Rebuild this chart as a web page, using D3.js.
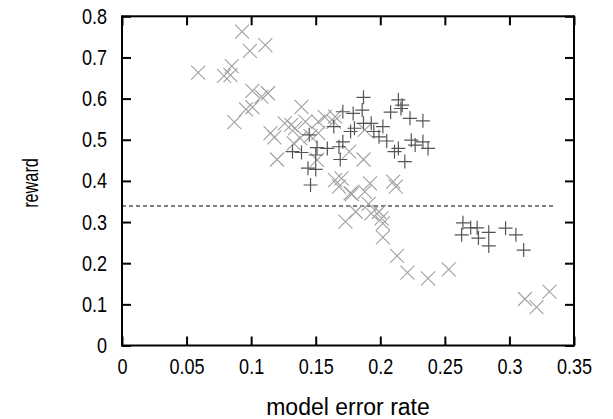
<!DOCTYPE html>
<html>
<head>
<meta charset="utf-8">
<script src="https://cdn.jsdelivr.net/npm/d3@7"></script>
<style>
  body { margin: 0; background: #fff; }
  svg text { font-family: "Liberation Sans", Arial, sans-serif; fill: #000; }
</style>
</head>
<body>
<div id="chart"></div>
<script>
// cross markers (light grey x)
var crossX = [0.059,0.079,0.084,0.085,0.093,0.099,0.111,0.101,0.108,0.113,0.096,0.101,0.087,0.115,0.118,0.120,
  0.126,0.131,0.134,0.139,0.142,0.152,0.157,0.164,0.165,0.146,0.152,0.138,0.133,0.151,0.176,0.188,0.187,
  0.170,0.165,0.168,0.177,0.188,0.192,0.210,0.212,0.178,0.181,0.173,0.191,0.193,0.199,0.201,0.202,0.202,
  0.213,0.221,0.237,0.253,0.312,0.321,0.331];
var crossY = [0.663,0.655,0.657,0.679,0.763,0.716,0.730,0.619,0.605,0.613,0.574,0.579,0.543,0.516,0.506,0.452,
  0.540,0.536,0.528,0.580,0.544,0.544,0.555,0.544,0.556,0.509,0.516,0.504,0.491,0.451,0.471,0.524,0.452,
  0.406,0.402,0.386,0.370,0.374,0.394,0.398,0.386,0.368,0.325,0.301,0.344,0.321,0.325,0.309,0.297,0.263,
  0.218,0.177,0.163,0.185,0.113,0.093,0.131];

// plus markers (dark grey +)
var plusX = [0.171,0.179,0.180,0.177,0.164,0.145,0.132,0.139,0.151,0.150,0.159,0.168,0.171,0.169,0.144,0.150,
  0.146,0.187,0.186,0.187,0.193,0.195,0.202,0.199,0.205,0.214,0.217,0.216,0.208,0.223,0.233,0.224,0.227,
  0.233,0.237,0.214,0.211,0.219,0.264,0.263,0.270,0.275,0.276,0.284,0.284,0.297,0.305,0.311];
var plusY = [0.568,0.564,0.528,0.520,0.532,0.512,0.471,0.469,0.481,0.463,0.479,0.483,0.495,0.452,0.431,0.428,
  0.390,0.603,0.572,0.540,0.540,0.520,0.532,0.507,0.497,0.597,0.584,0.576,0.567,0.552,0.546,0.499,0.487,
  0.495,0.479,0.479,0.471,0.447,0.298,0.269,0.286,0.286,0.261,0.275,0.242,0.285,0.269,0.232];

// baseline reward (dashed)
var baseline = 0.339;
var baselineEnd = 0.335;

var xTicks = [0, 0.05, 0.1, 0.15, 0.2, 0.25, 0.3, 0.35];
var yTicks = [0, 0.1, 0.2, 0.3, 0.4, 0.5, 0.6, 0.7, 0.8];

var w = 613, h = 419;
var mLeft = 122, mRight = 574, mTop = 16.3, mBottom = 345.5;

var x = d3.scaleLinear().domain([0, 0.35]).range([mLeft, mRight]);
var y = d3.scaleLinear().domain([0, 0.8]).range([mBottom, mTop]);

var svg = d3.select('#chart').append('svg')
  .attr('width', w)
  .attr('height', h);

// squeeze text along its own direction (the reference font is narrow)
var squeeze = function(sel, k) {
  sel.each(function() {
    var len = this.getComputedTextLength();
    d3.select(this).attr('textLength', len * k).attr('lengthAdjust', 'spacingAndGlyphs');
  });
};

// dashed line
svg.append('line')
  .attr('x1', x(0)).attr('x2', x(baselineEnd))
  .attr('y1', y(baseline)).attr('y2', y(baseline))
  .attr('stroke', '#000')
  .attr('stroke-width', 1.2)
  .attr('stroke-dasharray', '4,3');

// x marks
var cs = 7;
svg.append('g').selectAll('path')
  .data(d3.range(crossX.length))
  .enter().append('path')
  .attr('d', function(i) {
    var cx = x(crossX[i]), cy = y(crossY[i]);
    return 'M' + (cx - cs) + ',' + (cy - cs) + 'L' + (cx + cs) + ',' + (cy + cs) +
           'M' + (cx - cs) + ',' + (cy + cs) + 'L' + (cx + cs) + ',' + (cy - cs);
  })
  .attr('stroke', '#a0a0a0')
  .attr('stroke-width', 1.1)
  .attr('fill', 'none');

// + marks
var ps = 7;
svg.append('g').selectAll('path')
  .data(d3.range(plusX.length))
  .enter().append('path')
  .attr('d', function(i) {
    var cx = x(plusX[i]), cy = y(plusY[i]);
    return 'M' + (cx - ps) + ',' + cy + 'L' + (cx + ps) + ',' + cy +
           'M' + cx + ',' + (cy - ps) + 'L' + cx + ',' + (cy + ps);
  })
  .attr('stroke', '#555')
  .attr('stroke-width', 1.2)
  .attr('fill', 'none');

// axes with inward ticks on all sides
var tick = 9;
var xb = svg.append('g').attr('transform', 'translate(0,' + mBottom + ')')
  .call(d3.axisBottom(x).tickValues(xTicks).tickSize(-tick).tickPadding(13).tickFormat(d3.format('')));
var xt = svg.append('g').attr('transform', 'translate(0,' + mTop + ')')
  .call(d3.axisTop(x).tickValues(xTicks).tickSize(-tick).tickFormat(''));
var yl = svg.append('g').attr('transform', 'translate(' + mLeft + ',0)')
  .call(d3.axisLeft(y).tickValues(yTicks).tickSize(-tick).tickPadding(15).tickFormat(d3.format('')));
var yr = svg.append('g').attr('transform', 'translate(' + mRight + ',0)')
  .call(d3.axisRight(y).tickValues(yTicks).tickSize(-tick).tickFormat(''));

[xb, xt, yl, yr].forEach(function(g) {
  g.select('.domain').remove();
  g.selectAll('.tick line').attr('stroke', '#000').attr('stroke-width', 2);
  g.selectAll('.tick text').style('font-size', '22px').attr('font-family', null);
});
squeeze(xb.selectAll('.tick text'), 0.82);
squeeze(yl.selectAll('.tick text'), 0.82);

// frame
svg.append('rect')
  .attr('x', mLeft).attr('y', mTop)
  .attr('width', mRight - mLeft).attr('height', mBottom - mTop)
  .attr('fill', 'none')
  .attr('stroke', '#000')
  .attr('stroke-width', 2);

svg.append('text')
  .attr('x', 348)
  .attr('y', 415)
  .attr('text-anchor', 'middle')
  .style('font-size', '23px')
  .text('model error rate');

svg.append('text')
  .attr('transform', 'translate(38,183) rotate(-90) scale(0.74,1)')
  .attr('text-anchor', 'middle')
  .style('font-size', '22px')
  .text('reward');
</script>
</body>
</html>
